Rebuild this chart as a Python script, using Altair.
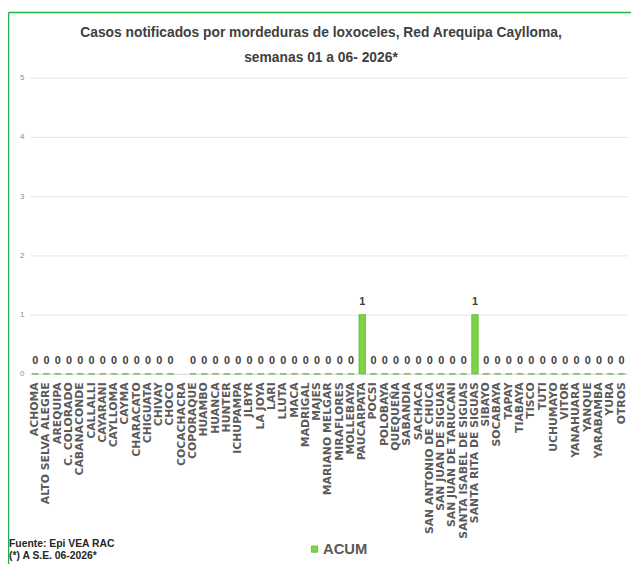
import altair as alt
import pandas as pd

distritos = [
    "ACHOMA", "ALTO SELVA ALEGRE", "AREQUIPA", "C. COLORADO", "CABANACONDE",
    "CALLALLI", "CAYARANI", "CAYLLOMA", "CAYMA", "CHARACATO", "CHIGUATA",
    "CHIVAY", "CHOCO", "COCACHACRA", "COPORAQUE", "HUAMBO", "HUANCA", "HUNTER",
    "ICHUPAMPA", "JLBYR", "LA JOYA", "LARI", "LLUTA", "MACA", "MADRIGAL",
    "MAJES", "MARIANO MELGAR", "MIRAFLORES", "MOLLEBAYA", "PAUCARPATA", "POCSI",
    "POLOBAYA", "QUEQUEÑA", "SABANDIA", "SACHACA", "SAN ANTONIO DE CHUCA",
    "SAN JUAN DE SIGUAS", "SAN JUAN DE TARUCANI", "SANTA ISABEL DE SIGUAS",
    "SANTA RITA DE SIGUAS", "SIBAYO", "SOCABAYA", "TAPAY", "TIABAYA", "TISCO",
    "TUTI", "UCHUMAYO", "VITOR", "YANAHUARA", "YANQUE", "YARABAMBA", "YURA",
    "OTROS",
]
acum = [
    0, 0, 0, 0, 0, 0, 0, 0, 0, 0, 0, 0, 0, None, 0, 0, 0, 0, 0, 0, 0, 0, 0, 0,
    0, 0, 0, 0, 0, 1, 0, 0, 0, 0, 0, 0, 0, 0, 0, 1, 0, 0, 0, 0, 0, 0, 0, 0, 0,
    0, 0, 0, 0,
]
serie = ["ACUM"]
titulo = ["Casos notificados por mordeduras de loxoceles, Red Arequipa Caylloma,",
          "semanas 01 a 06- 2026*"]
notas = ["Fuente: Epi VEA RAC", "(*) A S.E. 06-2026*"]

df = pd.DataFrame({"distrito": distritos, "casos": acum, "serie": serie * len(distritos)})

GREEN = "#7DD444"
SANS = "Liberation Sans, Arial, sans-serif"

x = alt.X("distrito:N", sort=distritos, title=None,
          scale=alt.Scale(paddingInner=0.43, paddingOuter=0.2),
          axis=alt.Axis(labelAngle=-90, labelFont="DejaVu Sans", labelFontSize=11,
                        labelFontWeight="bold", labelColor="#5a5a5a", labelPadding=8,
                        ticks=False, domainColor="#d9d9d9", labelOverlap=False,
                        labelLimit=300))
y = alt.Y("casos:Q", title=None,
          scale=alt.Scale(domain=[0, 5]),
          axis=alt.Axis(values=[0, 1, 2, 3, 4, 5], format="d", labelFontSize=8,
                        labelColor="#8c8c8c", labelPadding=6, ticks=False, domain=False,
                        gridColor="#e4e4e4", labelFont=SANS))

bars = alt.Chart(df).mark_bar(stroke="#5cb82f", strokeWidth=0.8).encode(
    x=x, y=y,
    color=alt.Color("serie:N", scale=alt.Scale(domain=serie, range=[GREEN]),
                    legend=alt.Legend(title=None, orient="none", legendX=281, legendY=470,
                                      symbolType="square", symbolSize=40,
                                      symbolStrokeColor="#5cb82f", symbolStrokeWidth=0.8,
                                      labelFont=SANS, labelFontSize=15,
                                      labelFontWeight="bold", labelColor="#595959",
                                      labelOffset=1)),
)

labels = alt.Chart(df).mark_text(baseline="middle", dy=-13, font=SANS, fontSize=11,
                                 fontWeight="bold", color="#404040").encode(
    x=alt.X("distrito:N", sort=distritos), y="casos:Q", text="casos:Q")

one = pd.DataFrame({"k": [0]})
border_top = alt.Chart(one).mark_rule(color="#22b14c", strokeWidth=1.5).encode(
    x=alt.value(-21.5), x2=alt.value(609), y=alt.value(-66))
border_left = alt.Chart(one).mark_rule(color="#22b14c", strokeWidth=1.5).encode(
    x=alt.value(-21.5), y=alt.value(-66), y2=alt.value(500))

tit_df = pd.DataFrame({"t": titulo})
tit1 = alt.Chart(tit_df.iloc[[0]]).mark_text(align="center", baseline="middle", font=SANS,
                                             fontSize=14, fontWeight="bold",
                                             color="#404040").encode(
    x=alt.value(295), y=alt.value(-45), text="t:N")
tit2 = alt.Chart(tit_df.iloc[[1]]).mark_text(align="center", baseline="middle", font=SANS,
                                             fontSize=14, fontWeight="bold",
                                             color="#404040").encode(
    x=alt.value(295), y=alt.value(-20), text="t:N")

nota_df = pd.DataFrame({"t": notas})
nota1 = alt.Chart(nota_df.iloc[[0]]).mark_text(align="left", baseline="middle", font=SANS,
                                               fontSize=10.5, fontWeight="bold",
                                               color="#262626").encode(
    x=alt.value(-21), y=alt.value(472), text="t:N")
nota2 = alt.Chart(nota_df.iloc[[1]]).mark_text(align="left", baseline="middle", font=SANS,
                                               fontSize=10.5, fontWeight="bold",
                                               color="#262626").encode(
    x=alt.value(-21), y=alt.value(485), text="t:N")

chart = alt.layer(bars, labels, border_top, border_left, tit1, tit2, nota1, nota2).properties(
    width=605, height=300,
    padding={"left": 22, "top": 67, "right": 4, "bottom": 189},
    autosize=alt.AutoSizeParams(type="none"),
).configure_view(stroke=None)

chart.save("out.html", embed_options={"renderer": "svg", "actions": False})
